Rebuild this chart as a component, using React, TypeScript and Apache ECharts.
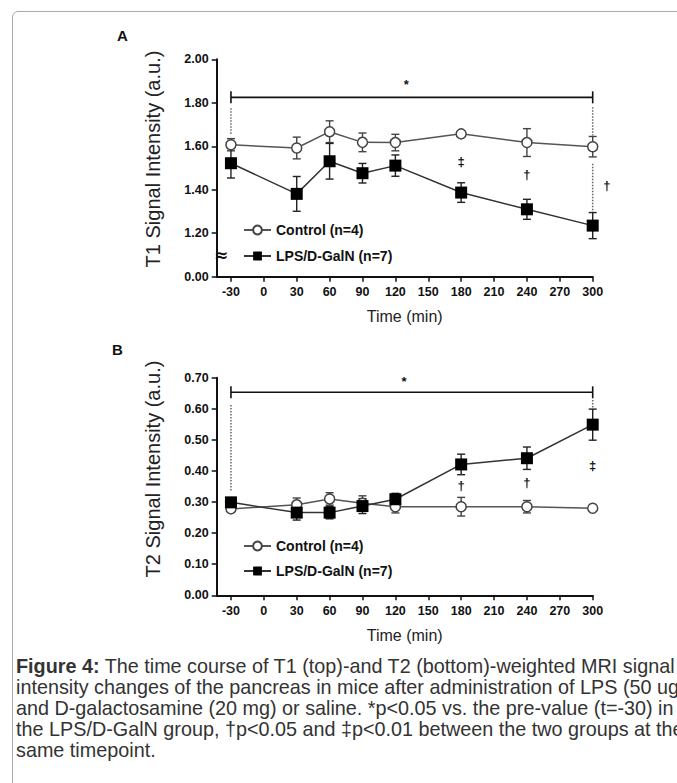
import React, { useEffect, useRef } from "react";
import * as echarts from "echarts";

// ---------- data ----------
const timePoints = [-30, 30, 60, 90, 120, 180, 240, 300];
const xTickValues = [-30, 0, 30, 60, 90, 120, 150, 180, 210, 240, 270, 300];

const t1Control = [1.607, 1.592, 1.667, 1.618, 1.617, 1.657, 1.617, 1.598];
const t1ControlErr = [0.028, 0.05, 0.05, 0.043, 0.038, 0.008, 0.064, 0.047];
const t1Lps = [1.522, 1.381, 1.531, 1.476, 1.511, 1.387, 1.31, 1.235];
const t1LpsErr = [0.068, 0.08, 0.082, 0.045, 0.049, 0.045, 0.046, 0.06];

const t2Control = [0.278, 0.291, 0.31, 0.296, 0.285, 0.285, 0.285, 0.28];
const t2ControlErr = [0.01, 0.022, 0.02, 0.024, 0.02, 0.03, 0.02, 0.008];
const t2Lps = [0.299, 0.266, 0.266, 0.287, 0.309, 0.421, 0.441, 0.549];
const t2LpsErr = [0.01, 0.024, 0.02, 0.024, 0.019, 0.033, 0.036, 0.05];

const t1TickLabels = ["0.00", "1.20", "1.40", "1.60", "1.80", "2.00"];
const t2TickLabels = ["0.00", "0.10", "0.20", "0.30", "0.40", "0.50", "0.60", "0.70"];

const seriesNames = ["Control (n=4)", "LPS/D-GalN (n=7)"];
const yTitles = ["T1 Signal Intensity (a.u.)", "T2 Signal Intensity (a.u.)"];
const xTitle = "Time (min)";

// annotations (x in minutes, y in real units)
const t1Marks = [
  { x: 130, y: 1.885, text: "*" },
  { x: 180, y: 1.53, text: "‡" },
  { x: 240, y: 1.468, text: "†" },
  { x: 313, y: 1.42, text: "†" },
];
const t2Marks = [
  { x: 128, y: 0.688, text: "*" },
  { x: 180, y: 0.353, text: "†" },
  { x: 240, y: 0.362, text: "†" },
  { x: 300, y: 0.416, text: "‡" },
];
const t1SigBar = [-30, 300, 1.825];
const t2SigBar = [-30, 300, 0.653];
const t1Dotted = [
  [-30, 1.775, 1.655],
  [300, 1.78, 1.65],
  [300, 1.52, 1.285],
];
const t2Dotted = [
  [-30, 0.612, 0.333],
  [300, 0.628, 0.596],
];

// ---------- helpers ----------
// T1 axis has a break: 0.00 then 1.20 .. 2.00 equally spaced
const t1f = (v: number) => (v < 0.5 ? v : v - 1.0);
const t2f = (v: number) => v;

const FONT = "Arial, 'Liberation Sans', sans-serif";

function lineSeries(name: string, idx: number, ys: number[], tf: (v: number) => number, control: boolean) {
  return {
    name,
    type: "line",
    xAxisIndex: idx,
    yAxisIndex: idx,
    z: 3,
    data: timePoints.map((x, i) => [x, tf(ys[i])]),
    symbol: control ? "circle" : "rect",
    symbolSize: control ? 10 : 12,
    itemStyle: control
      ? { color: "#ffffff", borderColor: "#444", borderWidth: 1.5 }
      : { color: "#000", borderColor: "#000", borderWidth: 0 },
    lineStyle: { color: control ? "#555" : "#333", width: 1.5 },
    silent: true,
  };
}

function errorSeries(idx: number, ys: number[], errs: number[], tf: (v: number) => number, color: string) {
  return {
    type: "custom",
    xAxisIndex: idx,
    yAxisIndex: idx,
    z: 1,
    silent: true,
    data: timePoints.map((x, i) => [x, tf(ys[i] - errs[i]), tf(ys[i] + errs[i])]),
    encode: { x: 0, y: [1, 2] },
    renderItem: (params: any, api: any) => {
      const x = api.value(0);
      const lo = api.coord([x, api.value(1)]);
      const hi = api.coord([x, api.value(2)]);
      const hw = 4;
      const st = { stroke: color, lineWidth: 1.4 };
      return {
        type: "group",
        children: [
          { type: "line", shape: { x1: lo[0], y1: lo[1], x2: hi[0], y2: hi[1] }, style: st },
          { type: "line", shape: { x1: lo[0] - hw, y1: lo[1], x2: lo[0] + hw, y2: lo[1] }, style: st },
          { type: "line", shape: { x1: hi[0] - hw, y1: hi[1], x2: hi[0] + hw, y2: hi[1] }, style: st },
        ],
      };
    },
  };
}

function sigBarSeries(idx: number, bar: number[], tf: (v: number) => number) {
  return {
    type: "custom",
    xAxisIndex: idx,
    yAxisIndex: idx,
    z: 1,
    silent: true,
    data: [[bar[0], bar[1], tf(bar[2])]],
    renderItem: (params: any, api: any) => {
      const a = api.coord([api.value(0), api.value(2)]);
      const b = api.coord([api.value(1), api.value(2)]);
      const h = 6;
      const st = { stroke: "#111", lineWidth: 1.6 };
      return {
        type: "group",
        children: [
          { type: "line", shape: { x1: a[0], y1: a[1], x2: b[0], y2: b[1] }, style: st },
          { type: "line", shape: { x1: a[0], y1: a[1] - h, x2: a[0], y2: a[1] + h }, style: st },
          { type: "line", shape: { x1: b[0], y1: b[1] - h, x2: b[0], y2: b[1] + h }, style: st },
        ],
      };
    },
  };
}

function dottedSeries(idx: number, rows: number[][], tf: (v: number) => number) {
  return {
    type: "custom",
    xAxisIndex: idx,
    yAxisIndex: idx,
    z: 1,
    silent: true,
    data: rows.map((r) => [r[0], tf(r[1]), tf(r[2])]),
    renderItem: (params: any, api: any) => {
      const a = api.coord([api.value(0), api.value(1)]);
      const b = api.coord([api.value(0), api.value(2)]);
      return {
        type: "line",
        shape: { x1: a[0], y1: a[1], x2: b[0], y2: b[1] },
        style: { stroke: "#666", lineWidth: 1.5, lineDash: [1.5, 1.5] },
      };
    },
  };
}

function markSeries(
  idx: number,
  marks: { x: number; y: number; text: string }[],
  tf: (v: number) => number,
  fontSize = 13,
  family = FONT
) {
  return {
    type: "custom",
    xAxisIndex: idx,
    yAxisIndex: idx,
    z: 5,
    silent: true,
    clip: false,
    data: marks.map((m) => [m.x, tf(m.y)]),
    renderItem: (params: any, api: any) => {
      const p = api.coord([api.value(0), api.value(1)]);
      return {
        type: "text",
        x: p[0],
        y: p[1],
        z2: 10,
        style: {
          text: marks[params.dataIndex].text,
          fill: "#111",
          font: `bold ${fontSize}px ${family}`,
          align: "center",
          verticalAlign: "middle",
        },
      };
    },
  };
}

function xAxisCfg(gridIndex: number) {
  return {
    type: "value",
    gridIndex,
    min: -43,
    max: 300,
    name: xTitle,
    nameLocation: "middle",
    nameGap: 32,
    nameTextStyle: { fontFamily: FONT, fontSize: 16, color: "#222" },
    axisLine: { show: true, onZero: false, lineStyle: { color: "#111", width: 2 } },
    axisTick: { show: true, customValues: xTickValues, length: 5, lineStyle: { color: "#111", width: 1.5 } },
    axisLabel: {
      customValues: xTickValues,
      fontFamily: FONT,
      fontWeight: "bold",
      fontSize: 12.5,
      color: "#111",
      margin: 9,
    },
    splitLine: { show: false },
  };
}

function yAxisCfg(gridIndex: number, max: number, interval: number, labels: string[]) {
  return {
    type: "value",
    gridIndex,
    min: 0,
    max,
    interval,
    axisLine: { show: true, onZero: false, lineStyle: { color: "#111", width: 2 } },
    axisTick: { show: true, length: 5, lineStyle: { color: "#111", width: 1.5 } },
    axisLabel: {
      fontFamily: FONT,
      fontWeight: "bold",
      fontSize: 12.5,
      color: "#111",
      margin: 8,
      formatter: (v: number) => labels[Math.round(v / interval)],
    },
    splitLine: { show: false },
  };
}

function legendCfg(top: number, gap: number) {
  return {
    data: seriesNames,
    orient: "vertical",
    left: 238,
    top,
    itemWidth: 27,
    itemHeight: 11,
    itemGap: gap,
    selectedMode: false,
    textStyle: { fontFamily: FONT, fontWeight: "bold", fontSize: 14, color: "#111" },
  };
}

function yTitle(text: string, cx: number, cy: number) {
  return {
    type: "text",
    x: cx,
    y: cy,
    rotation: Math.PI / 2,
    silent: true,
    style: {
      text,
      fill: "#222",
      font: `20px ${FONT}`,
      align: "center",
      verticalAlign: "middle",
    },
  };
}

export default function App() {
  const ref = useRef<HTMLDivElement>(null);

  useEffect(() => {
    if (!ref.current) return;
    const chart = echarts.init(ref.current, undefined, { renderer: "svg" });

    const breakMark = { x: -39, y: 0.1, text: "≈" };

    const option: any = {
      animation: false,
      backgroundColor: "transparent",
      title: [
        { text: "A", left: 112, top: 23, textStyle: { fontFamily: FONT, fontSize: 15, fontWeight: "bold", color: "#111" } },
        { text: "B", left: 107, top: 337, textStyle: { fontFamily: FONT, fontSize: 15, fontWeight: "bold", color: "#111" } },
      ],
      graphic: [yTitle(yTitles[0], 153, 159), yTitle(yTitles[1], 153, 469)],
      grid: [
        { left: 216.7, top: 59.3, width: 376, height: 217.4 },
        { left: 216.7, top: 377.7, width: 376, height: 217.6 },
      ],
      legend: [legendCfg(218, 12), legendCfg(534, 11)],
      xAxis: [xAxisCfg(0), xAxisCfg(1)],
      yAxis: [yAxisCfg(0, 1.0, 0.2, t1TickLabels), yAxisCfg(1, 0.7, 0.1, t2TickLabels)],
      series: [
        dottedSeries(0, t1Dotted, t1f),
        sigBarSeries(0, t1SigBar, t1f),
        errorSeries(0, t1Control, t1ControlErr, t1f, "#444"),
        errorSeries(0, t1Lps, t1LpsErr, t1f, "#222"),
        lineSeries(seriesNames[0], 0, t1Control, t1f, true),
        lineSeries(seriesNames[1], 0, t1Lps, t1f, false),
        markSeries(0, t1Marks, t1f),
        markSeries(0, [breakMark], (v) => v, 17, "'DejaVu Sans'"),
        dottedSeries(1, t2Dotted, t2f),
        sigBarSeries(1, t2SigBar, t2f),
        errorSeries(1, t2Control, t2ControlErr, t2f, "#444"),
        errorSeries(1, t2Lps, t2LpsErr, t2f, "#222"),
        lineSeries(seriesNames[0], 1, t2Control, t2f, true),
        lineSeries(seriesNames[1], 1, t2Lps, t2f, false),
        markSeries(1, t2Marks, t2f),
      ],
    };
    chart.setOption(option);
    return () => chart.dispose();
  }, []);

  return (
    <div
      style={{
        position: "absolute",
        left: 0,
        top: 0,
        width: 677,
        height: 783,
        overflow: "hidden",
        background: "#fff",
      }}
    >
      <div
        style={{
          position: "absolute",
          left: 12,
          top: 11,
          width: 720,
          height: 800,
          border: "1px solid #aaa",
          borderRadius: 6,
        }}
      />
      <div ref={ref} style={{ position: "absolute", left: 0, top: 0, width: 677, height: 650 }} />
      <div
        style={{
          position: "absolute",
          left: 16,
          top: 656,
          fontFamily: FONT,
          fontSize: 19.8,
          lineHeight: "21px",
          color: "#333",
          whiteSpace: "nowrap",
        }}
      >
        <div>
          <b>Figure 4:</b> The time course of T1 (top)-and T2 (bottom)-weighted MRI signal
        </div>
        <div>intensity changes of the pancreas in mice after administration of LPS (50 ug)</div>
        <div>and D-galactosamine (20 mg) or saline. *p&lt;0.05 vs. the pre-value (t=-30) in</div>
        <div>the LPS/D-GalN group, †p&lt;0.05 and ‡p&lt;0.01 between the two groups at the</div>
        <div>same timepoint.</div>
      </div>
    </div>
  );
}
